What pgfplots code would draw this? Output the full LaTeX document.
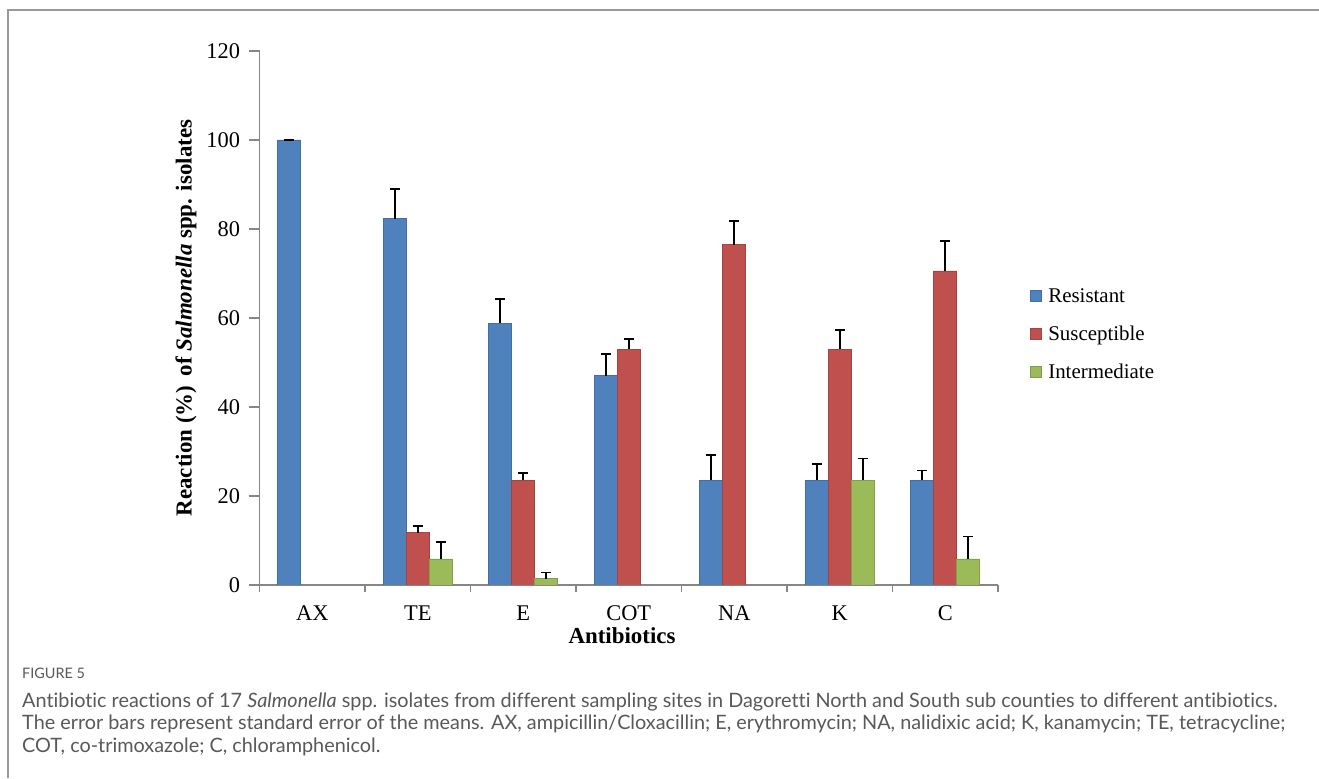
\documentclass[border=0pt]{standalone}
\usepackage{pgfplots}
\pgfplotsset{compat=1.18}
\usepackage{fontspec}
\setmainfont{Liberation Serif}
\newfontfamily\capfont[Ligatures=NoCommon]{Lato}
\definecolor{cblue}{HTML}{4F81BD}
\definecolor{cred}{HTML}{C0504D}
\definecolor{cgreen}{HTML}{9BBB59}
\definecolor{axgray}{HTML}{868686}
\definecolor{capgray}{HTML}{58595B}
\pgfplotsset{
  sqlegend/.style={legend image code/.code={\draw[##1,line width=0.6bp] (0bp,-5.5bp) rectangle (11bp,5.5bp);}},
  myerr/.style={error bars/.cd, y dir=plus, y explicit,
    error bar style={black, line width=1.8bp, solid},
    error mark=|,
    error mark options={black, line width=1.8bp, mark size=5bp, solid}},
}
\begin{document}
\begin{tikzpicture}[x=1bp,y=1bp]
\useasboundingbox (0,0) rectangle (1319,778);
\fill[white] (0,0) rectangle (1319,778);
\draw[gray!80, line width=2bp] (8,0) -- (8,768) -- (1319,768);
\begin{axis}[
  at={(259.5bp,193bp)}, anchor=south west,
  scale only axis, width=738.5bp, height=534bp,
  xmin=-0.5, xmax=6.5, ymin=0, ymax=120,
  axis lines*=left,
  axis line style={axgray, line width=1.3bp},
  ytick={0,20,...,120},
  xtick={0,...,6}, xticklabels={AX,TE,E,COT,NA,K,C},
  minor xtick={-0.5,0.5,...,6.5},
  tick align=outside,
  major tick length=11bp, minor tick length=7bp,
  tick style={axgray, line width=1.3bp},
  major x tick style={draw=none},
  tick label style={font=\fontsize{22.5}{26}\selectfont},
  yticklabel style={xshift=-5bp},
  xticklabel style={yshift=-6bp},
  /pgf/number format/assume math mode=true,
  xlabel={Antibiotics},
  ylabel={Reaction (\%)\, of \textit{Salmonella} spp. isolates},
  label style={font=\bfseries\fontsize{23}{27}\selectfont},
  xlabel style={at={(axis description cs:0.4909,-0.0955)}, anchor=center},
  ylabel style={at={(axis description cs:-0.0995,0.5)}, anchor=center},
  ybar=0pt, bar width=23bp,
  legend style={at={(1.0386,0.47)}, anchor=west, draw=none, fill=none,
    font=\fontsize{21}{25}\selectfont, row sep=18bp, column sep=5bp},
  legend cell align=left,
]
\addplot[fill=cblue, draw=cblue!85!black, line width=0.6bp, sqlegend, myerr] coordinates {
  (0,100) +- (0,0)
  (1,82.35) +- (0,6.7)
  (2,58.82) +- (0,5.5)
  (3,47.06) +- (0,4.8)
  (4,23.53) +- (0,5.6)
  (5,23.53) +- (0,3.7)
  (6,23.53) +- (0,2.2)
};
\addplot[fill=cred, draw=cred!85!black, line width=0.6bp, sqlegend, myerr] coordinates {
  (1,11.76) +- (0,1.5)
  (2,23.53) +- (0,1.6)
  (3,52.94) +- (0,2.4)
  (4,76.47) +- (0,5.3)
  (5,52.94) +- (0,4.4)
  (6,70.59) +- (0,6.7)
};
\addplot[fill=cgreen, draw=cgreen!85!black, line width=0.6bp, sqlegend, myerr] coordinates {
  (1,5.88) +- (0,3.8)
  (2,1.4) +- (0,1.4)
  (5,23.53) +- (0,4.9)
  (6,5.88) +- (0,5.0)
};
\legend{Resistant, Susceptible, Intermediate}
\end{axis}
\begin{scope}[font=\capfont, text=capgray]
\node[anchor=base west, inner sep=0, font=\capfont\fontsize{14.5}{17}\selectfont] at (22,100) {FIGURE 5};
\node[anchor=base west, inner sep=0, font=\capfont\fontsize{19.9}{22}\selectfont] at (22,71) {Antibiotic reactions of 17 \textit{Salmonella} spp. isolates from different sampling sites in Dagoretti North and South sub counties to different antibiotics.};
\node[anchor=base west, inner sep=0, font=\capfont\fontsize{19.9}{22}\selectfont] at (22,49) {The error bars represent standard error of the means. AX, ampicillin/Cloxacillin; E, erythromycin; NA, nalidixic acid; K, kanamycin; TE, tetracycline;};
\node[anchor=base west, inner sep=0, font=\capfont\fontsize{19.9}{22}\selectfont] at (22,26) {COT, co-trimoxazole; C, chloramphenicol.};
\end{scope}
\end{tikzpicture}
\end{document}
